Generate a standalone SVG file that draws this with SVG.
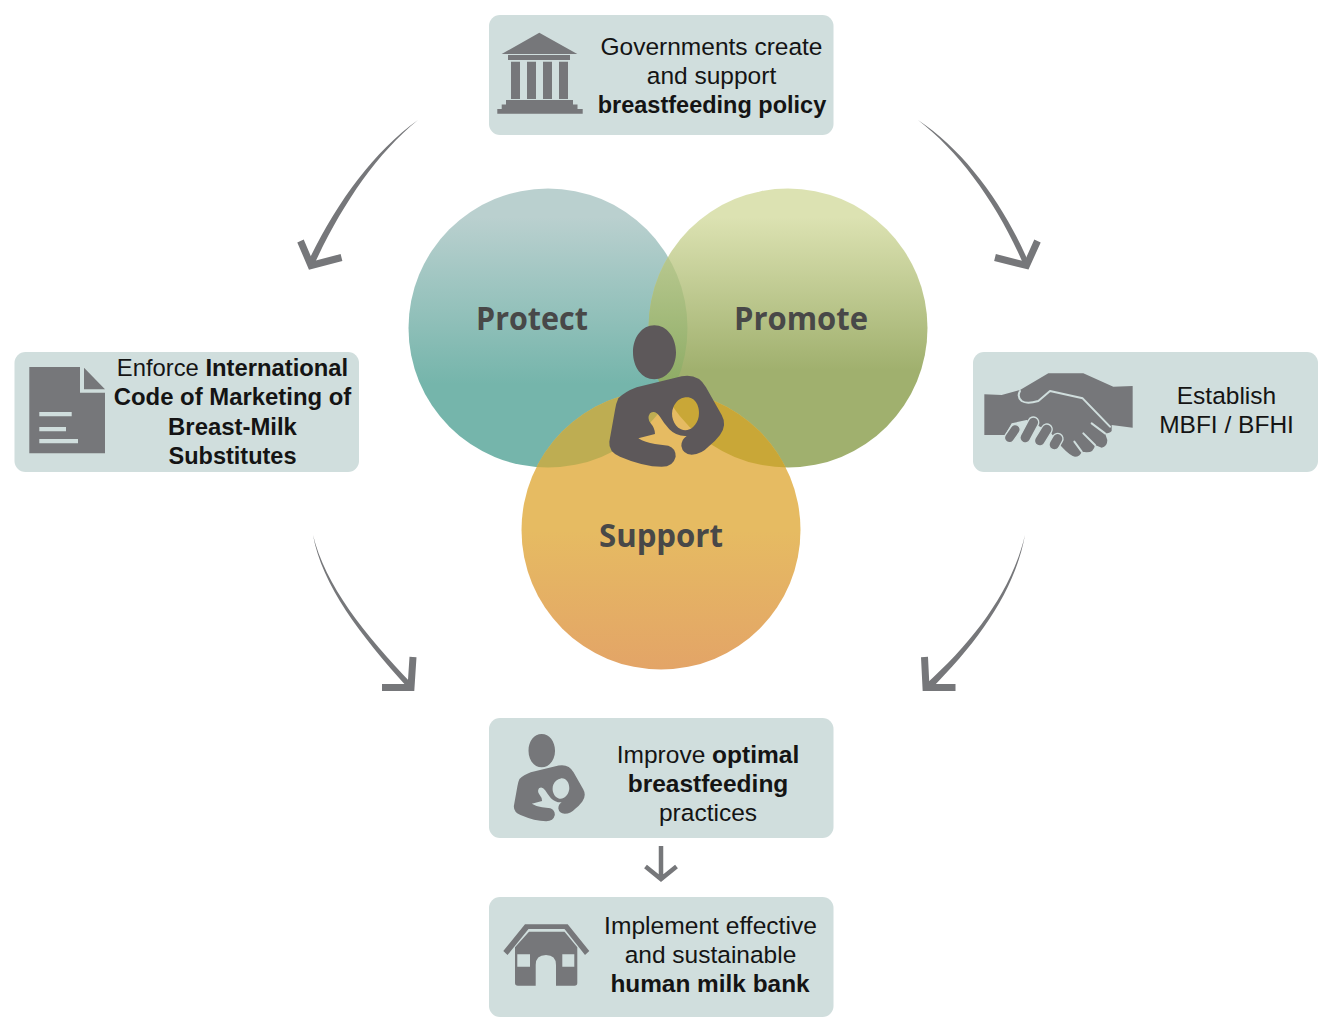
<svg xmlns="http://www.w3.org/2000/svg" width="1322" height="1025" viewBox="0 0 1322 1025">
<style>
.box{fill:#d0dedd}
.ic{fill:#76777a}
.t{font-family:"Liberation Sans",Arial,sans-serif;font-size:24.5px;fill:#141414;text-anchor:middle}
.b{font-weight:700}
.c{font-family:"Open Sans","Liberation Sans",sans-serif;font-size:33px;font-weight:700;fill:#484848;text-anchor:middle}
.arrow{fill:#76777a}
.head{fill:none;stroke:#76777a;stroke-width:7}
.seam{fill:none;stroke:#d0dedd}
</style>
<defs>
<linearGradient id="gA" gradientUnits="userSpaceOnUse" x1="0" y1="189" x2="0" y2="468"><stop offset="0.1" stop-color="#bad0cf"/><stop offset="0.7" stop-color="#75b5ab"/><stop offset="1" stop-color="#75b5ab"/></linearGradient>
<linearGradient id="gB" gradientUnits="userSpaceOnUse" x1="0" y1="189" x2="0" y2="468"><stop offset="0.1" stop-color="#dce2b2"/><stop offset="0.65" stop-color="#a0b06e"/><stop offset="1" stop-color="#a0b06e"/></linearGradient>
<linearGradient id="gAB" gradientUnits="userSpaceOnUse" x1="0" y1="255" x2="0" y2="400"><stop offset="0" stop-color="#b8c88f"/><stop offset="1" stop-color="#88a860"/></linearGradient>
<linearGradient id="gC" gradientUnits="userSpaceOnUse" x1="0" y1="390" x2="0" y2="670"><stop offset="0.5" stop-color="#e6bb62"/><stop offset="1" stop-color="#e3a467"/></linearGradient>
<clipPath id="cA"><circle cx="548" cy="328" r="139.500"/></clipPath>
<clipPath id="cB"><circle cx="788" cy="328" r="139.500"/></clipPath>
<path id="mother" fill-rule="evenodd" d="M115,265 Q135,245 170,232 L305,199 Q355,190 378,232 L425,315 Q442,345 420,375 Q405,395 385,410 Q365,432 335,434 Q308,432 304,408 Q304,388 320,378 Q290,380 268,358 Q252,340 240,320 Q225,298 210,310 Q200,325 212,340 Q225,355 225,372 L175,385 Q195,398 225,402 L265,407 Q288,415 287,440 Q280,470 245,470 Q190,470 120,440 Q85,425 88,395 L105,300 Q108,280 115,265 Z M316,262 C345,258 362,290 356,320 C350,350 325,368 303,358 C280,348 270,315 280,292 C287,275 300,264 316,262 Z M223,46 C260,46 288,82 288,127 C288,172 260,208 223,208 C186,208 159,172 159,127 C159,82 186,46 223,46 Z"/>
</defs>
<g id="connectors">
<path class="arrow" d="M418,120 C372,153 335,205 307,264 L313,267 C340,208 375,155 418,120 Z"/>
<path class="head" d="M300.500,241 L311,265.500 L341.500,257.500"/>
<path class="arrow" d="M918,120 C961,153 1000,208 1024.500,267 L1029.500,264.500 C1005,206 965,151 918,120 Z"/>
<path class="head" d="M1037.500,241 L1026.500,265.500 L995,257.500"/>
<path class="arrow" d="M313,535 C322,585 360,635 408,688 L412,684 C365,635 325,585 313,535 Z"/>
<path class="head" d="M413,657 L411,687.500 L382,687.500"/>
<path class="arrow" d="M1025,535 C1012,590 975,640 925,685 L930,690 C980,640 1015,590 1025,535 Z"/>
<path class="head" d="M924.500,657 L926,687.500 L955.500,687.500"/>
<path class="head" style="stroke-width:4.500" d="M661,846 V878 M645.500,866.500 L661,879 L676.500,866.500"/>
</g>
<g id="venn">
<g id="protect"><circle cx="548" cy="328" r="139.500" fill="url(#gA)"/></g>
<g id="promote"><circle cx="788" cy="328" r="139.500" fill="url(#gB)"/>
<g clip-path="url(#cA)"><circle cx="788" cy="328" r="139.500" fill="url(#gAB)"/></g></g>
<g id="support"><circle cx="661" cy="530" r="139.500" fill="url(#gC)"/>
<g clip-path="url(#cA)"><circle cx="661" cy="530" r="139.500" fill="#bead52"/></g>
<g clip-path="url(#cB)"><circle cx="661" cy="530" r="139.500" fill="#c9a737"/></g></g>
<text class="c" x="532" y="330" textLength="112" lengthAdjust="spacingAndGlyphs">Protect</text>
<text class="c" x="801" y="330" textLength="134" lengthAdjust="spacingAndGlyphs">Promote</text>
<text class="c" x="661" y="547" textLength="124" lengthAdjust="spacingAndGlyphs">Support</text>
<use id="mother-main" href="#mother" transform="translate(580,310) scale(.33333)" fill="#5d585a"/>
</g>
<g id="node-government">
<rect class="box" x="489" y="15" width="344.500" height="120" rx="11"/>
<path class="ic" d="M539.300,32.700 L577.300,54 H501.700 Z M508,55 H570 V60 H508 Z M511,61.700 H520 V99 H511 Z M527,61.700 H536 V99 H527 Z M543,61.700 H552 V99 H543 Z M559,61.700 H568 V99 H559 Z M506,100 H573 V104.500 H577.500 V109 H582.700 V113.700 H497.300 V109 H501.700 V104.500 H506 Z"/>
<text class="t" x="711.500" y="55">Governments create</text>
<text class="t" x="711.500" y="84">and support</text>
<text class="t b" x="712" y="113" style="font-size:23.500px">breastfeeding policy</text>
</g>
<g id="node-enforce">
<rect class="box" x="14.500" y="352" width="344.500" height="120" rx="11"/>
<path class="ic" d="M29.300,367 H80 V392.700 H105 V453.300 H29.300 Z M84,367.700 L105,389.300 H84 Z"/>
<path class="box" d="M39.300,412 H71.700 V416.300 H39.300 Z M39.300,427 H66 V431.300 H39.300 Z M39.300,439 H78 V443.300 H39.300 Z"/>
<text class="t" x="232.500" y="376" style="font-size:23.800px">Enforce <tspan class="b">International</tspan></text>
<text class="t b" x="232.500" y="405" style="font-size:23.900px">Code of Marketing of</text>
<text class="t b" x="232.500" y="435" style="font-size:23.900px">Breast-Milk</text>
<text class="t b" x="232.500" y="464" style="font-size:23.500px">Substitutes</text>
</g>
<g id="node-establish">
<rect class="box" x="973" y="352" width="345" height="120" rx="11"/>
<g transform="translate(970,345) scale(.33333)">
<path class="ic" d="M43,148 L95,150 L150,135 L235,85 L340,85 L430,125 L488,123 V248 L425,240 V258 Q420,265 405,265 L412,285 Q412,305 395,308 L375,300 Q372,322 350,322 L335,320 Q330,335 315,335 Q300,332 275,305 L240,260 L170,225 L125,235 L105,270 H43 Z"/>
<path class="seam" stroke-width="6" stroke-linejoin="round" stroke-linecap="round" d="M150,138 Q140,155 155,168 Q170,178 205,168 L240,138 L338,160 L420,245"/>
<path class="seam" stroke-width="6" stroke-linecap="round" d="M365,235 L405,265 M340,265 L375,300 M313,290 L335,320"/>
<g stroke="#d0dedd" stroke-width="4" fill="#76777a"><rect x="-15" y="-30" width="30" height="60" rx="15" transform="translate(127,266) rotate(35)"/><rect x="-16" y="-42" width="32" height="84" rx="16" transform="translate(178,255) rotate(28)"/><rect x="-16" y="-36" width="32" height="72" rx="16" transform="translate(220,270) rotate(32)"/><rect x="-16" y="-26" width="32" height="52" rx="16" transform="translate(258,290) rotate(30)"/></g>
</g>
<text class="t" x="1226.500" y="404">Establish</text>
<text class="t" x="1226.500" y="433">MBFI / BFHI</text>
</g>
<g id="node-improve">
<rect class="box" x="489" y="718" width="344.500" height="120" rx="11"/>
<use href="#mother" transform="translate(495.800,724.550) scale(.2057)" fill="#76777a"/>
<text class="t" x="708" y="763">Improve <tspan class="b">optimal</tspan></text>
<text class="t b" x="708" y="792">breastfeeding</text>
<text class="t" x="708" y="821">practices</text>
</g>
<g id="node-milkbank">
<rect class="box" x="489" y="897" width="344.500" height="120" rx="11"/>
<path class="ic" d="M503.300,951 L525,924.300 H567.700 L589.300,951 L585,955 L564.500,929 H528.500 L507.500,955 Z M529,931.700 H564.500 L577.300,947.300 V983 Q577.300,985.700 574.500,985.700 H556 V965 Q556,955 546,955 Q535.700,955 535.700,965 V985.700 H518 Q515,985.700 515,983 V947.300 Z"/>
<path class="box" d="M517.300,954.300 H530 V966.700 H517.300 Z M562.300,954.300 H574.300 V966.700 H562.300 Z"/>
<text class="t" x="710.500" y="934" style="font-size:24.600px">Implement effective</text>
<text class="t" x="710.500" y="963">and sustainable</text>
<text class="t b" x="710" y="992" style="font-size:24.400px">human milk bank</text>
</g>
</svg>
